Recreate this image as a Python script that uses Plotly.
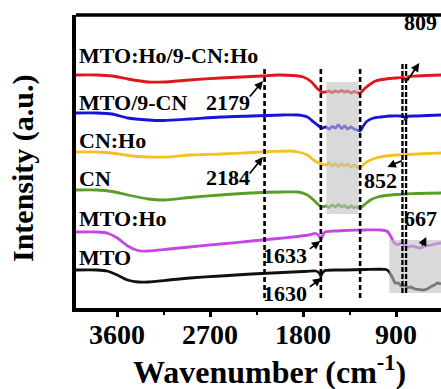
import plotly.graph_objects as go

# FTIR spectra, stacked with vertical offsets (arbitrary units)
wn_red = [4000, 3800, 3650, 3500, 3300, 3150, 2900, 2600, 2400, 2200, 2050, 1900, 1800, 1720, 1660, 1620, 1580, 1550,
          1520, 1490, 1460, 1430, 1400, 1370, 1340, 1310, 1280, 1250, 1200, 1150, 1100, 1000, 900, 830, 809, 780, 700,
          600, 467]
int_red = [2.33, 2.33, 2.32, 2.29, 2.26, 2.26, 2.28, 2.30, 2.31, 2.32, 2.33, 2.325, 2.31, 2.26, 2.19, 2.16, 2.16, 2.17,
           2.155, 2.17, 2.16, 2.175, 2.16, 2.17, 2.15, 2.165, 2.155, 2.15, 2.20, 2.24, 2.27, 2.29, 2.30, 2.305, 2.28,
           2.315, 2.32, 2.325, 2.33]

wn_blue = [4000, 3800, 3650, 3500, 3300, 3150, 2900, 2600, 2300, 2000, 1850, 1760, 1700, 1650, 1620, 1580, 1550, 1520,
           1490, 1460, 1430, 1400, 1370, 1340, 1310, 1280, 1250, 1220, 1180, 1120, 1050, 950, 860, 820, 809, 795, 700,
           600, 467]
int_blue = [1.95, 1.95, 1.94, 1.90, 1.88, 1.875, 1.89, 1.91, 1.92, 1.93, 1.93, 1.91, 1.86, 1.82, 1.80, 1.81, 1.79,
            1.815, 1.80, 1.83, 1.795, 1.82, 1.79, 1.81, 1.79, 1.78, 1.77, 1.82, 1.87, 1.90, 1.91, 1.92, 1.92, 1.91,
            1.88, 1.915, 1.92, 1.925, 1.93]

wn_yellow = [4000, 3800, 3650, 3500, 3300, 3100, 2900, 2600, 2300, 2100, 1950, 1850, 1760, 1700, 1650, 1620, 1580,
             1550, 1520, 1490, 1460, 1430, 1400, 1370, 1340, 1310, 1280, 1250, 1200, 1150, 1080, 1000, 900, 809, 700,
             467]
int_yellow = [1.56, 1.56, 1.55, 1.525, 1.51, 1.51, 1.53, 1.54, 1.555, 1.565, 1.57, 1.56, 1.53, 1.48, 1.45, 1.44, 1.43,
              1.45, 1.42, 1.44, 1.415, 1.445, 1.42, 1.44, 1.41, 1.43, 1.41, 1.405, 1.45, 1.48, 1.505, 1.52, 1.53, 1.535,
              1.54, 1.55]

wn_green = [4000, 3800, 3650, 3500, 3300, 3150, 2900, 2600, 2300, 2000, 1850, 1760, 1700, 1650, 1620, 1580, 1550,
            1520, 1490, 1460, 1430, 1400, 1370, 1340, 1310, 1280, 1250, 1200, 1150, 1080, 1000, 900, 809, 700, 467]
int_green = [1.18, 1.18, 1.165, 1.13, 1.09, 1.08, 1.105, 1.13, 1.15, 1.16, 1.16, 1.13, 1.08, 1.03, 1.01, 1.02, 1.005,
             1.03, 1.01, 1.035, 1.01, 1.025, 1.00, 1.02, 1.005, 1.01, 1.00, 1.04, 1.08, 1.11, 1.125, 1.135, 1.14,
             1.145, 1.15]

wn_purple = [4000, 3800, 3700, 3600, 3500, 3400, 3300, 3100, 2900, 2600, 2300, 2100, 1900, 1750, 1680, 1645, 1630,
             1615, 1590, 1500, 1400, 1200, 1050, 985, 950, 920, 880, 850, 810, 780, 740, 700, 667, 620, 560, 500, 467]
int_purple = [0.76, 0.76, 0.75, 0.70, 0.62, 0.575, 0.57, 0.59, 0.61, 0.64, 0.67, 0.69, 0.71, 0.73, 0.745, 0.72, 0.68,
              0.72, 0.76, 0.77, 0.775, 0.78, 0.78, 0.765, 0.71, 0.65, 0.635, 0.65, 0.625, 0.61, 0.62, 0.605, 0.60,
              0.62, 0.63, 0.645, 0.65]

wn_black = [4000, 3800, 3700, 3600, 3500, 3400, 3300, 3100, 2900, 2600, 2300, 2000, 1800, 1680, 1645, 1630, 1615,
            1590, 1400, 1200, 1000, 975, 940, 910, 880, 850, 820, 790, 764, 720, 680, 638, 600, 570, 530, 502, 467]
int_black = [0.38, 0.38, 0.37, 0.33, 0.28, 0.26, 0.26, 0.28, 0.30, 0.32, 0.34, 0.355, 0.365, 0.37, 0.35, 0.32, 0.35,
             0.375, 0.38, 0.385, 0.385, 0.37, 0.31, 0.25, 0.25, 0.22, 0.225, 0.205, 0.21, 0.19, 0.185, 0.18, 0.19,
             0.21, 0.23, 0.25, 0.24]

series = [
    ("MTO:Ho/9-CN:Ho", wn_red, int_red, "#e0161c", 2.53),
    ("MTO/9-CN", wn_blue, int_blue, "#1515d8", 2.06),
    ("CN:Ho", wn_yellow, int_yellow, "#f3c124", 1.68),
    ("CN", wn_green, int_green, "#5a9e2a", 1.30),
    ("MTO:Ho", wn_purple, int_purple, "#c646e4", 0.90),
    ("MTO", wn_black, int_black, "#111111", 0.51),
]

# x-axis ticks
tick_vals = [3600, 2700, 1800, 900]
tick_text = ["3600", "2700", "1800", "900"]

# marked band positions (cm-1)
band_lines = [2175, 1630, 1250]
band_pair = [840, 805]

# peak labels: text, text position, arrow tail, arrow head
peak_labels = [
    ("2179", (2530, 2.06), (2330, 2.10), (2190, 2.27)),
    ("2184", (2530, 1.31), (2330, 1.33), (2190, 1.51)),
    ("852", (1054, 1.28), (831, 1.48), (986, 1.41)),
    ("809", (667, 2.86), (802, 2.26), (677, 2.45)),
    ("667", (667, 0.90), (657, 0.61), (609, 0.71)),
    ("1633", (1974, 0.53), (1751, 0.58), (1635, 0.67)),
    ("1630", (1974, 0.15), (1751, 0.20), (1625, 0.30)),
]

FONT = "Liberation Serif"
L, T, W, H = 76, 15, 365, 293  # plot area in pixels

fig = go.Figure()
for name, wn, it, col, _ in series:
    fig.add_trace(go.Scatter(x=wn, y=it, mode="lines", name=name,
                             line=dict(color=col, width=2.8, shape="spline", smoothing=0.6),
                             showlegend=False, hoverinfo="skip"))

shapes = []
# shaded bands drawn over the curves
shapes.append(dict(type="rect", xref="x", yref="y", x0=1577, x1=1267, y0=0.94, y1=2.26,
                   fillcolor="#bfbfbf", opacity=0.6, line=dict(width=0), layer="above"))
shapes.append(dict(type="rect", xref="x", yref="y", x0=967, x1=467, y0=0.15, y1=0.68,
                   fillcolor="#bfbfbf", opacity=0.6, line=dict(width=0), layer="above"))
for xv in band_lines:
    shapes.append(dict(type="line", xref="x", yref="y", x0=xv, x1=xv, y0=0.10, y1=2.41,
                       line=dict(color="black", width=2.6, dash="5px,3px"), layer="above"))
for xv in band_pair:
    shapes.append(dict(type="line", xref="x", yref="y", x0=xv, x1=xv, y0=0.15, y1=2.44,
                       line=dict(color="black", width=2.3, dash="5px,2px"), layer="above"))
# top frame line
shapes.append(dict(type="line", xref="paper", yref="paper", x0=0, x1=1, y0=1, y1=1,
                   line=dict(color="black", width=3.5)))

annotations = []
for name, _, _, _, ly in series:
    annotations.append(dict(x=0, xref="paper", xshift=1, y=ly, yref="y", text=name, showarrow=False,
                            xanchor="left", yanchor="middle",
                            font=dict(family=FONT, size=22, color="black", weight="bold")))
for txt, (tx, ty), (ax, ay), (hx, hy) in peak_labels:
    annotations.append(dict(x=tx, y=ty, xref="x", yref="y", text=txt, showarrow=False,
                            xanchor="center", yanchor="middle",
                            font=dict(family=FONT, size=22, color="black", weight="bold")))
    annotations.append(dict(x=hx, y=hy, xref="x", yref="y", ax=ax, ay=ay, axref="x", ayref="y",
                            text="", showarrow=True, arrowhead=2, arrowsize=1, arrowwidth=1.7,
                            arrowcolor="black"))
# tick labels
for tv, tt in zip(tick_vals, tick_text):
    annotations.append(dict(x=tv, xref="x", y=-(334 - (T + H)) / H, yref="paper", text=tt,
                            showarrow=False, xanchor="center", yanchor="middle",
                            font=dict(family=FONT, size=28, color="black", weight="bold")))
annotations.append(dict(x=(269 - L) / W, y=-(370 - (T + H)) / H, xref="paper", yref="paper",
                        text="Wavenumber (cm<sup>-1</sup>)", showarrow=False,
                        xanchor="center", yanchor="middle",
                        font=dict(family=FONT, size=32, color="black", weight="bold")))
annotations.append(dict(x=-(L - 23) / W, y=(T + H - 168) / H, xref="paper", yref="paper",
                        text="Intensity (a.u.)", showarrow=False, textangle=-90,
                        xanchor="center", yanchor="middle",
                        font=dict(family=FONT, size=30, color="black", weight="bold")))

fig.update_layout(
    width=441, height=389,
    margin=dict(l=L, r=0, t=T, b=389 - T - H),
    paper_bgcolor="white", plot_bgcolor="white",
    shapes=shapes, annotations=annotations,
    xaxis=dict(range=[4000, 467], tickvals=tick_vals, showticklabels=False,
               ticks="outside", ticklen=5, tickwidth=3, tickcolor="black",
               minor=dict(tickvals=[3150, 2250, 1350, 450], ticks="outside", ticklen=3, tickwidth=2,
                          tickcolor="black"),
               showline=True, linecolor="black", linewidth=3.5, showgrid=False, zeroline=False),
    yaxis=dict(range=[0, 2.93], showticklabels=False, ticks="", showline=True, linecolor="black",
               linewidth=3.5, showgrid=False, zeroline=False),
)

fig.write_html("out.html")
